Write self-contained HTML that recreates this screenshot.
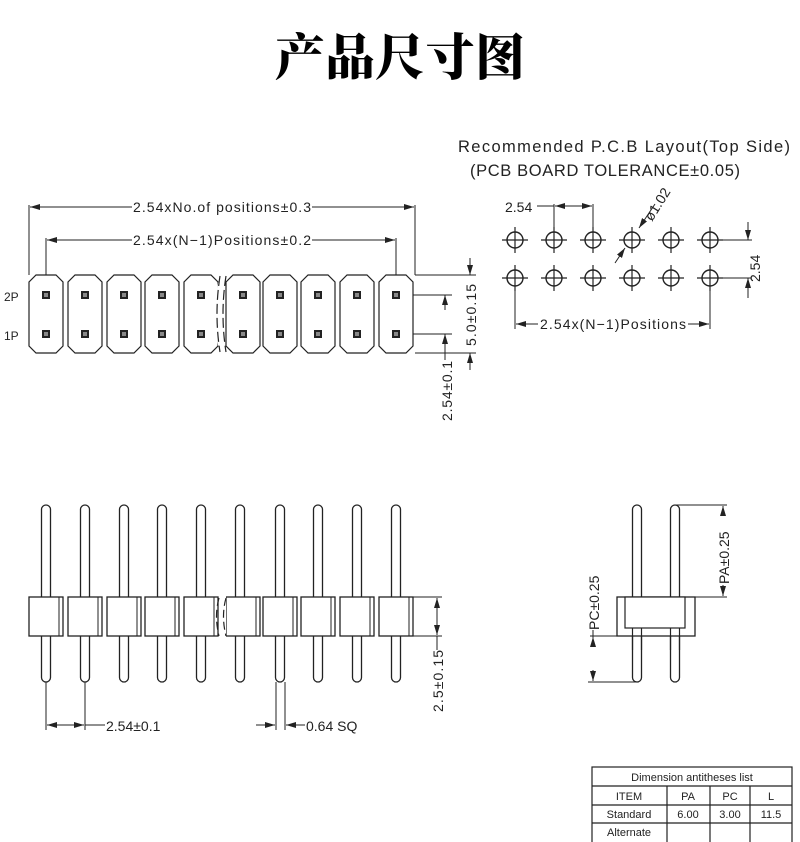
<!DOCTYPE html>
<html><head><meta charset="utf-8"><style>
html,body{margin:0;padding:0;background:#fff;width:800px;height:842px;overflow:hidden}
svg{display:block}
text{font-family:"Liberation Sans",sans-serif;fill:#222}
</style></head><body>
<svg width="800" height="842" viewBox="0 0 800 842" xmlns="http://www.w3.org/2000/svg">
<defs>
<path id="cell" d="M7,0 H27 L34,7 V71 L27,78 H7 L0,71 V7 Z" fill="#fff" stroke="#222" stroke-width="1.2"/>
<g id="sq"><rect x="-4" y="-4" width="8" height="8" fill="#222"/><rect x="-2" y="-2" width="4" height="4" fill="#888"/></g>
<rect id="pin" x="-4.5" y="0" width="9" height="177" rx="4.5" fill="#fff" stroke="#222" stroke-width="1.3"/>
<g id="body"><rect x="-17" y="0" width="34" height="39" fill="#fff" stroke="#222" stroke-width="1.3"/><line x1="13" y1="0" x2="13" y2="39" stroke="#222" stroke-width="1"/></g>
<g id="hole"><circle r="8" fill="none" stroke="#222" stroke-width="1.4"/><line x1="-13" y1="0" x2="13" y2="0" stroke="#222" stroke-width="1.2"/><line x1="0" y1="-13" x2="0" y2="13" stroke="#222" stroke-width="1.2"/></g>
<marker id="a" viewBox="0 0 10 6" refX="10" refY="3" markerWidth="10" markerHeight="6" orient="auto-start-reverse" markerUnits="userSpaceOnUse"><path d="M0,0 L10,3 L0,6 Z" fill="#222"/></marker>
</defs>

<text x="400" y="75" text-anchor="middle" style="font-family:'Noto Serif CJK SC','Noto Sans CJK SC',serif;font-weight:900;font-size:50px;fill:#000">产品尺寸图</text>

<g stroke="#222" stroke-width="1" fill="none">
<line x1="29" y1="205" x2="29" y2="275"/><line x1="415" y1="205" x2="415" y2="275"/>
<line x1="30" y1="207" x2="132" y2="207" marker-start="url(#a)"/><line x1="312" y1="207" x2="414" y2="207" marker-end="url(#a)"/>
<line x1="46" y1="238" x2="46" y2="295"/><line x1="396" y1="238" x2="396" y2="295"/>
<line x1="47" y1="240" x2="132" y2="240" marker-start="url(#a)"/><line x1="312" y1="240" x2="395" y2="240" marker-end="url(#a)"/>
<line x1="400" y1="295" x2="452" y2="295"/><line x1="400" y1="334" x2="452" y2="334"/>
<line x1="445" y1="310" x2="445" y2="295" marker-end="url(#a)"/><line x1="445" y1="360" x2="445" y2="334" marker-end="url(#a)"/>
<line x1="415" y1="275" x2="476" y2="275"/><line x1="415" y1="353" x2="476" y2="353"/>
<line x1="470" y1="258" x2="470" y2="275" marker-end="url(#a)"/><line x1="470" y1="370" x2="470" y2="353" marker-end="url(#a)"/>
</g>
<text x="222" y="212" text-anchor="middle" font-size="14" textLength="178">2.54xNo.of  positions±0.3</text>
<text x="222" y="245" text-anchor="middle" font-size="14" textLength="178">2.54x(N−1)Positions±0.2</text>
<text x="4" y="301" font-size="12">2P</text><text x="4" y="340" font-size="12">1P</text>
<text transform="translate(452,421) rotate(-90)" font-size="14" textLength="60">2.54±0.1</text>
<text transform="translate(476,346) rotate(-90)" font-size="14" textLength="62">5.0±0.15</text>

<g>
<use href="#cell" x="29" y="275"/><use href="#cell" x="68" y="275"/><use href="#cell" x="107" y="275"/><use href="#cell" x="145" y="275"/><use href="#cell" x="184" y="275"/>
<use href="#cell" x="226" y="275"/><use href="#cell" x="263" y="275"/><use href="#cell" x="301" y="275"/><use href="#cell" x="340" y="275"/><use href="#cell" x="379" y="275"/>
</g>
<path d="M221,283 Q215,314 221,345" stroke="#fff" stroke-width="6" fill="none"/>
<path d="M220,276 Q214,314 220,352 M226,276 Q220,314 226,352" stroke="#222" stroke-width="1.2" fill="none" stroke-dasharray="10,4"/>
<g>
<use href="#sq" x="46" y="295"/><use href="#sq" x="85" y="295"/><use href="#sq" x="124" y="295"/><use href="#sq" x="162" y="295"/><use href="#sq" x="201" y="295"/><use href="#sq" x="243" y="295"/><use href="#sq" x="280" y="295"/><use href="#sq" x="318" y="295"/><use href="#sq" x="357" y="295"/><use href="#sq" x="396" y="295"/>
<use href="#sq" x="46" y="334"/><use href="#sq" x="85" y="334"/><use href="#sq" x="124" y="334"/><use href="#sq" x="162" y="334"/><use href="#sq" x="201" y="334"/><use href="#sq" x="243" y="334"/><use href="#sq" x="280" y="334"/><use href="#sq" x="318" y="334"/><use href="#sq" x="357" y="334"/><use href="#sq" x="396" y="334"/>
</g>

<text x="458" y="152" font-size="16.5" textLength="332">Recommended  P.C.B  Layout(Top  Side)</text>
<text x="470" y="176" font-size="16.5" textLength="270">(PCB  BOARD  TOLERANCE±0.05)</text>
<g>
<use href="#hole" x="515" y="240"/><use href="#hole" x="554" y="240"/><use href="#hole" x="593" y="240"/><use href="#hole" x="632" y="240"/><use href="#hole" x="671" y="240"/><use href="#hole" x="710" y="240"/>
<use href="#hole" x="515" y="278"/><use href="#hole" x="554" y="278"/><use href="#hole" x="593" y="278"/><use href="#hole" x="632" y="278"/><use href="#hole" x="671" y="278"/><use href="#hole" x="710" y="278"/>
</g>
<g stroke="#222" stroke-width="1" fill="none">
<line x1="537" y1="206" x2="554" y2="206"/><line x1="554" y1="204" x2="554" y2="230"/><line x1="593" y1="204" x2="593" y2="230"/>
<line x1="555" y1="206" x2="592" y2="206" marker-start="url(#a)" marker-end="url(#a)"/>
<line x1="615" y1="263" x2="625" y2="248" marker-end="url(#a)"/><line x1="655" y1="204" x2="639" y2="228" marker-end="url(#a)"/>
<line x1="720" y1="240" x2="752" y2="240"/><line x1="720" y1="278" x2="752" y2="278"/>
<line x1="748" y1="222" x2="748" y2="240" marker-end="url(#a)"/><line x1="748" y1="298" x2="748" y2="278" marker-end="url(#a)"/>
<line x1="515" y1="288" x2="515" y2="329"/><line x1="710" y1="288" x2="710" y2="329"/>
<line x1="516" y1="324" x2="538" y2="324" marker-start="url(#a)"/><line x1="688" y1="324" x2="709" y2="324" marker-end="url(#a)"/>
</g>
<text x="505" y="212" font-size="14">2.54</text>
<text transform="translate(652,222) rotate(-58)" font-size="14">ø1.02</text>
<text transform="translate(760,282) rotate(-90)" font-size="14">2.54</text>
<text x="540" y="329" font-size="14" textLength="146">2.54x(N−1)Positions</text>

<g>
<use href="#pin" x="46" y="505"/><use href="#pin" x="85" y="505"/><use href="#pin" x="124" y="505"/><use href="#pin" x="162" y="505"/><use href="#pin" x="201" y="505"/><use href="#pin" x="240" y="505"/><use href="#pin" x="280" y="505"/><use href="#pin" x="318" y="505"/><use href="#pin" x="357" y="505"/><use href="#pin" x="396" y="505"/>
</g>
<g>
<use href="#body" x="46" y="597"/><use href="#body" x="85" y="597"/><use href="#body" x="124" y="597"/><use href="#body" x="162" y="597"/><use href="#body" x="201" y="597"/><use href="#body" x="243" y="597"/><use href="#body" x="280" y="597"/><use href="#body" x="318" y="597"/><use href="#body" x="357" y="597"/><use href="#body" x="396" y="597"/>
</g>
<rect x="219" y="596" width="7" height="42" fill="#fff"/>
<path d="M219,598 Q214,616 219,636 M226,598 Q221,616 226,636" stroke="#222" stroke-width="1.2" fill="none" stroke-dasharray="8,4"/>
<g stroke="#222" stroke-width="1" fill="none">
<line x1="413" y1="597" x2="442" y2="597"/><line x1="413" y1="636" x2="442" y2="636"/>
<line x1="437" y1="616" x2="437" y2="598" marker-end="url(#a)"/><line x1="437" y1="616" x2="437" y2="635" marker-end="url(#a)"/>
<line x1="437" y1="636" x2="437" y2="650"/>
<line x1="46" y1="682" x2="46" y2="730"/><line x1="85" y1="682" x2="85" y2="730"/>
<line x1="47" y1="725" x2="84" y2="725" marker-start="url(#a)" marker-end="url(#a)"/><line x1="85" y1="725" x2="105" y2="725"/>
<line x1="276" y1="682" x2="276" y2="730"/><line x1="285" y1="682" x2="285" y2="730"/>
<line x1="256" y1="725" x2="275" y2="725" marker-end="url(#a)"/><line x1="305" y1="725" x2="286" y2="725" marker-end="url(#a)"/>
</g>
<text x="106" y="731" font-size="14">2.54±0.1</text>
<text x="306" y="731" font-size="14">0.64  SQ</text>
<text transform="translate(443,712) rotate(-90)" font-size="14" textLength="62">2.5±0.15</text>

<use href="#pin" x="637" y="505"/><use href="#pin" x="675" y="505"/>
<rect x="617" y="597" width="78" height="39" fill="#fff" stroke="#222" stroke-width="1.3"/>
<rect x="625" y="597" width="60" height="31" fill="#fff" stroke="#222" stroke-width="1.2"/>
<g stroke="#222" stroke-width="1.2">
<line x1="632.5" y1="628" x2="632.5" y2="650"/><line x1="641.5" y1="628" x2="641.5" y2="650"/>
<line x1="670.5" y1="628" x2="670.5" y2="650"/><line x1="679.5" y1="628" x2="679.5" y2="650"/>
</g>
<g stroke="#222" stroke-width="1" fill="none">
<line x1="675" y1="505" x2="727" y2="505"/><line x1="690" y1="597" x2="727" y2="597"/>
<line x1="723" y1="515" x2="723" y2="506" marker-end="url(#a)"/><line x1="723" y1="585" x2="723" y2="596" marker-end="url(#a)"/>
<line x1="590" y1="636" x2="617" y2="636"/><line x1="588" y1="682" x2="637" y2="682"/>
<line x1="593" y1="645" x2="593" y2="637" marker-end="url(#a)"/><line x1="593" y1="670" x2="593" y2="681" marker-end="url(#a)"/>
<line x1="593" y1="630" x2="593" y2="645"/>
</g>
<text transform="translate(729,584) rotate(-90)" font-size="14">PA±0.25</text>
<text transform="translate(599,630) rotate(-90)" font-size="14">PC±0.25</text>

<g stroke="#222" stroke-width="1.2" fill="none">
<rect x="592" y="767" width="200" height="76"/>
<line x1="592" y1="786" x2="792" y2="786"/><line x1="592" y1="805" x2="792" y2="805"/><line x1="592" y1="823" x2="792" y2="823"/>
<line x1="667" y1="786" x2="667" y2="842"/><line x1="710" y1="786" x2="710" y2="842"/><line x1="750" y1="786" x2="750" y2="842"/>
</g>
<g font-size="11" text-anchor="middle">
<text x="692" y="781">Dimension  antitheses  list</text>
<text x="629" y="800">ITEM</text><text x="688" y="800">PA</text><text x="730" y="800">PC</text><text x="771" y="800">L</text>
<text x="629" y="818">Standard</text><text x="688" y="818">6.00</text><text x="730" y="818">3.00</text><text x="771" y="818">11.5</text>
<text x="629" y="836">Alternate</text>
</g>
</svg>
</body></html>
